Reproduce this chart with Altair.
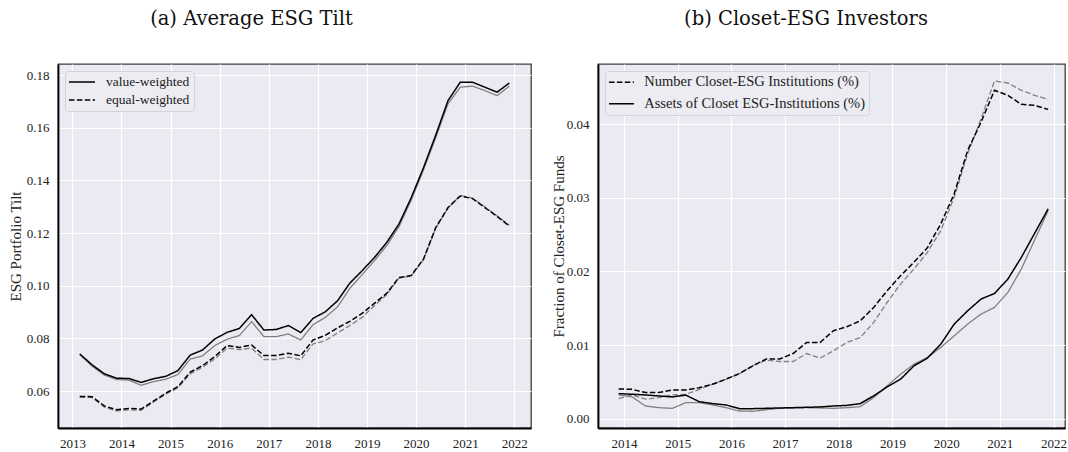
import altair as alt
import pandas as pd

# Quarterly observation dates (decimal years)
quarters = [round(2013.15 + 0.25 * i, 2) for i in range(36)]
quarters_b = quarters[3:]

# Panel (a): average ESG tilt
tilt_vw = [0.0741, 0.0700, 0.0666, 0.0649, 0.0648, 0.0633, 0.0647, 0.0656, 0.0678, 0.0737,
           0.0756, 0.0798, 0.0823, 0.0838, 0.0890, 0.0832, 0.0834, 0.0849, 0.0822, 0.0876,
           0.0901, 0.0943, 0.1010, 0.1057, 0.1107, 0.1164, 0.1234, 0.1334, 0.1448, 0.1572,
           0.1703, 0.1773, 0.1773, 0.1754, 0.1735, 0.1770]
tilt_vw_alt = [0.0739, 0.0695, 0.0661, 0.0644, 0.0642, 0.0622, 0.0636, 0.0645, 0.0663, 0.0722,
               0.0734, 0.0773, 0.0797, 0.0811, 0.0864, 0.0807, 0.0807, 0.0817, 0.0794, 0.0852,
               0.0880, 0.0920, 0.0990, 0.1042, 0.1095, 0.1152, 0.1224, 0.1325, 0.1440, 0.1562,
               0.1691, 0.1754, 0.1758, 0.1741, 0.1722, 0.1758]
tilt_ew = [0.0580, 0.0579, 0.0544, 0.0529, 0.0534, 0.0532, 0.0562, 0.0592, 0.0617, 0.0672,
           0.0697, 0.0731, 0.0773, 0.0766, 0.0775, 0.0735, 0.0735, 0.0744, 0.0734, 0.0794,
           0.0812, 0.0840, 0.0865, 0.0895, 0.0933, 0.0971, 0.1031, 0.1039, 0.1101, 0.1221,
           0.1297, 0.1341, 0.1331, 0.1297, 0.1263, 0.1227]
tilt_ew_alt = [0.0577, 0.0576, 0.0539, 0.0525, 0.0529, 0.0527, 0.0558, 0.0589, 0.0612, 0.0666,
               0.0691, 0.0722, 0.0763, 0.0758, 0.0763, 0.0720, 0.0720, 0.0729, 0.0719, 0.0779,
               0.0792, 0.0821, 0.0849, 0.0880, 0.0924, 0.0966, 0.1029, 0.1037, 0.1099, 0.1219,
               0.1295, 0.1343, 0.1333, 0.1300, 0.1265, 0.1230]

# Panel (b): closet-ESG investors
closet_num = [0.00404, 0.00398, 0.00354, 0.00354, 0.00390, 0.00390, 0.00420, 0.00468, 0.00536,
              0.00612, 0.00717, 0.00810, 0.00810, 0.00884, 0.01034, 0.01034, 0.01193, 0.01248,
              0.01329, 0.01510, 0.01737, 0.01941, 0.02123, 0.02320, 0.02645, 0.03053, 0.03642,
              0.04027, 0.04459, 0.04390, 0.04268, 0.04254, 0.04200]
closet_num_alt = [0.00272, 0.00322, 0.00264, 0.00286, 0.00322, 0.00330, 0.00397, 0.00468, 0.00536,
                  0.00610, 0.00720, 0.00794, 0.00776, 0.00776, 0.00884, 0.00822, 0.00921, 0.01034,
                  0.01102, 0.01306, 0.01578, 0.01828, 0.02032, 0.02259, 0.02554, 0.03007, 0.03597,
                  0.04073, 0.04585, 0.04558, 0.04459, 0.04390, 0.04336]
closet_assets = [0.00340, 0.00331, 0.00322, 0.00308, 0.00295, 0.00320, 0.00231, 0.00204, 0.00186,
                 0.00136, 0.00136, 0.00140, 0.00145, 0.00149, 0.00154, 0.00159, 0.00172, 0.00180,
                 0.00204, 0.00309, 0.00431, 0.00535, 0.00717, 0.00822, 0.01012, 0.01284, 0.01465,
                 0.01624, 0.01700, 0.01896, 0.02190, 0.02520, 0.02850]
closet_assets_alt = [0.00322, 0.00295, 0.00172, 0.00149, 0.00140, 0.00218, 0.00218, 0.00186, 0.00149,
                     0.00104, 0.00100, 0.00122, 0.00140, 0.00145, 0.00149, 0.00145, 0.00140, 0.00149,
                     0.00163, 0.00286, 0.00445, 0.00603, 0.00740, 0.00831, 0.00967, 0.01125, 0.01284,
                     0.01420, 0.01511, 0.01715, 0.02032, 0.02430, 0.02826]

VW, EW = "value-weighted", "equal-weighted"
NUM, ASSETS = "Number Closet-ESG Institutions (%)", "Assets of Closet ESG-Institutions (%)"


def frame(years, rows):
    out = []
    for series, shade, values in rows:
        for y, v in zip(years, values):
            out.append({"year": y, "value": v, "series": series, "shade": shade})
    return pd.DataFrame(out)


# gray companions first so the black series are drawn on top
df_a = frame(quarters, [(VW, "alt", tilt_vw_alt), (EW, "alt", tilt_ew_alt),
                        (VW, "main", tilt_vw), (EW, "main", tilt_ew)])
df_b = frame(quarters_b, [(NUM, "alt", closet_num_alt), (ASSETS, "alt", closet_assets_alt),
                          (NUM, "main", closet_num), (ASSETS, "main", closet_assets)])

SERIF = "Liberation Serif"
TITLE_FONT = "DejaVu Serif"
DASHED = [5.5, 2.4]
SOLID = [1, 0]


def legend(size, row_pad, half_len, sym_offset, lab_offset):
    # horizontal line sample; a small symbol size keeps the rows compact
    return alt.Legend(
        title=None, orient="top-left", offset=7,
        fillColor="#ECECF2", strokeColor="#D2D2D8", cornerRadius=3, padding=4,
        labelFont=SERIF, labelFontSize=size, labelColor="#222222",
        labelOffset=lab_offset, labelLimit=400,
        symbolType=f"M-{half_len},0H{half_len}", symbolSize=144, symbolStrokeWidth=1.5,
        symbolOffset=sym_offset, symbolStrokeColor="black", rowPadding=row_pad,
    )


def panel(df, dash_domain, dash_range, xdom, xticks, ydom, yticks, ytitle,
          title, title_dx, width, height, leg, ytitle_x):
    x = alt.X("year:Q", scale=alt.Scale(domain=xdom, nice=False, zero=False),
              axis=alt.Axis(values=xticks, format="d", title=None))
    y = alt.Y("value:Q", scale=alt.Scale(domain=ydom, nice=False, zero=False),
              axis=alt.Axis(values=yticks, format=".2f", title=ytitle,
                            titleX=ytitle_x, titleY=height / 2, titleAngle=270,
                            titleAlign="center", titleBaseline="middle"))
    return alt.Chart(df).mark_line().encode(
        x=x, y=y,
        stroke=alt.Stroke("shade:N", scale=alt.Scale(domain=["main", "alt"],
                                                     range=["#000000", "#808080"]), legend=None),
        strokeWidth=alt.StrokeWidth("shade:N", scale=alt.Scale(domain=["main", "alt"],
                                                               range=[1.5, 1.3]), legend=None),
        strokeDash=alt.StrokeDash("series:N", sort=dash_domain,
                                  scale=alt.Scale(domain=dash_domain, range=dash_range),
                                  legend=leg),
        detail="shade:N",
    ).properties(
        width=width, height=height,
        title=alt.TitleParams(text=title, font=TITLE_FONT, fontSize=19.5, fontWeight="normal",
                              color="#111111", anchor="middle", frame="group", dx=title_dx,
                              baseline="alphabetic", offset=20),
    )


chart_a = panel(df_a, [VW, EW], [SOLID, DASHED], [2012.707, 2022.34], list(range(2013, 2023)),
                [0.046, 0.1842], [0.06, 0.08, 0.10, 0.12, 0.14, 0.16, 0.18],
                "ESG Portfolio Tilt", "(a) Average ESG Tilt", -43, 473, 364,
                legend(13.5, 4, 2.17, 6, 17), -43)
chart_b = panel(df_b, [NUM, ASSETS], [DASHED, SOLID], [2013.516, 2022.213], list(range(2014, 2023)),
                [-0.00127, 0.04816], [0.0, 0.01, 0.02, 0.03, 0.04],
                "Fraction of Closet-ESG Funds", "(b) Closet-ESG Investors", -25.5, 467, 364,
                legend(14.5, 6.5, 2.08, 5.25, 15.5), -40)

chart = alt.hconcat(chart_a, chart_b, spacing=18).resolve_scale(
    strokeDash="independent", stroke="independent", strokeWidth="independent",
).resolve_legend(
    strokeDash="independent", stroke="independent", strokeWidth="independent",
).properties(
    padding={"left": 7, "top": 7, "right": 0, "bottom": 0},
    background="white",
).configure_view(
    fill="#EAEAF2", stroke="#3d3d3d", strokeWidth=1.3,
).configure_axis(
    grid=True, gridColor="white", gridWidth=1.2, domain=False, ticks=False,
    labelFont=SERIF, labelFontSize=13, labelColor="#222222", labelPadding=9,
    titleFont=SERIF, titleFontSize=15, titleFontWeight="normal", titleColor="#222222",
).configure_axisLeft(
    domain=True, domainColor="#000000", domainWidth=1.8,
).configure_axisBottom(
    domain=True, domainColor="#000000", domainWidth=1.8,
)

chart.save("out.html", embed_options={"renderer": "svg", "actions": False})
